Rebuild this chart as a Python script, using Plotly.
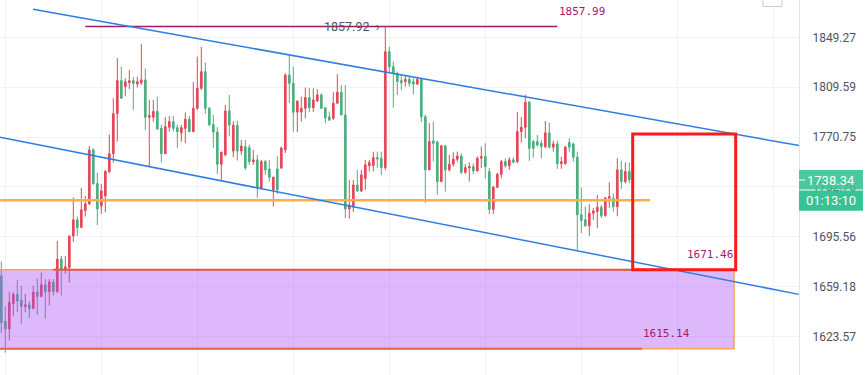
import math
import plotly.graph_objects as go

# ---------------- data ----------------
opens = [1667.1,1634.3,1629.1,1647.2,1653.7,1649.5,1645.0,1646.2,1643.6,1655.4,
         1652.2,1660.6,1655.8,1662.6,1655.8,1679.2,1671.5,1673.1,1696.3,1708.2,
         1702.5,1715.1,1720.1,1760.9,1735.4,1718.5,1726.0,1744.4,1758.0,1788.9,
         1814.7,1810.0,1813.1,1814.7,1812.1,1813.1,1815.3,1786.1,1786.1,1790.5,
         1777.5,1758.0,1778.4,1782.7,1778.0,1774.1,1777.5,1784.5,1774.9,1793.0,
         1808.7,1821.8,1793.0,1780.4,1774.6,1750.0,1757.1,1791.0,1760.0,1779.7,
         1760.0,1763.4,1762.6,1751.9,1753.3,1732.0,1752.0,1746.4,1730.6,1746.4,
         1747.2,1760.9,1819.2,1812.6,1790.1,1790.1,1793.0,1801.4,1793.5,1798.8,
         1803.5,1793.5,1786.4,1785.3,1797.0,1805.6,1787.9,1716.3,1717.9,1734.3,
         1729.8,1739.1,1748.9,1749.0,1755.0,1754.5,1747.4,1837.7,1825.8,1820.6,
         1814.7,1814.0,1815.8,1813.9,1812.0,1815.8,1786.4,1745.7,1767.8,1767.0,
         1736.8,1764.0,1745.7,1750.0,1753.8,1756.3,1743.9,1747.2,1748.2,1744.9,
         1754.6,1755.8,1744.4,1716.0,1732.6,1742.4,1752.0,1748.8,1753.3,1751.9,
         1775.0,1778.3,1797.8,1767.3,1767.3,1766.0,1763.5,1774.0,1763.0,1765.5,
         1750.5,1750.5,1766.6,1765.5,1755.3,1711.9,1708.2,1703.7,1713.1,1714.4,
         1717.5,1711.3,1724.3,1724.3,1718.0,1745.7,1736.8,1744.4]
highs = [1677.5,1645.2,1655.4,1655.6,1664.2,1659.9,1654.1,1648.9,1659.9,1665.4,
         1669.5,1664.7,1664.7,1664.7,1692.6,1681.6,1681.6,1696.8,1724.8,1710.6,
         1732.1,1725.8,1764.0,1762.2,1743.5,1735.1,1745.7,1772.8,1800.9,1832.6,
         1825.8,1816.6,1823.2,1817.8,1817.8,1844.0,1824.5,1799.6,1799.6,1802.2,
         1780.1,1786.2,1787.1,1787.1,1780.1,1780.1,1789.7,1787.1,1813.9,1833.8,
         1841.7,1829.0,1794.0,1787.9,1778.4,1759.6,1795.7,1803.5,1783.0,1783.5,
         1768.6,1768.6,1765.0,1760.9,1757.1,1753.3,1753.3,1753.3,1740.6,1756.0,
         1763.5,1820.6,1835.9,1825.8,1798.8,1802.2,1809.3,1808.7,1808.7,1808.0,
         1804.8,1793.5,1790.5,1805.6,1819.8,1811.3,1811.3,1738.1,1738.1,1745.7,
         1745.7,1753.3,1753.3,1759.6,1759.6,1759.6,1857.92,1841.7,1829.8,1821.9,
         1820.0,1818.7,1817.8,1816.6,1817.8,1816.6,1788.2,1781.5,1782.7,1768.0,
         1764.7,1764.7,1757.1,1759.1,1759.6,1758.3,1750.0,1751.2,1750.5,1755.8,
         1763.5,1766.0,1747.1,1733.6,1743.4,1753.3,1754.5,1755.3,1755.3,1790.3,
         1786.2,1803.7,1798.8,1768.6,1772.4,1768.6,1783.2,1781.9,1768.0,1768.0,
         1755.8,1764.0,1770.0,1766.6,1759.6,1732.4,1718.2,1719.8,1716.9,1726.8,
         1719.3,1725.5,1736.3,1728.0,1754.5,1752.6,1751.3,1751.3]
lows = [1626.1,1612.3,1620.9,1637.9,1641.0,1632.4,1641.0,1636.8,1643.0,1639.1,
        1651.5,1636.3,1645.7,1652.9,1654.6,1652.9,1668.6,1662.3,1691.9,1696.3,
        1702.5,1710.6,1719.3,1734.3,1704.2,1712.6,1713.8,1743.2,1751.2,1767.3,
        1800.6,1802.4,1808.1,1791.8,1809.4,1811.3,1776.3,1748.2,1782.7,1776.3,
        1751.4,1758.0,1775.0,1775.0,1762.4,1767.3,1766.0,1774.6,1774.9,1791.8,
        1807.4,1788.7,1779.0,1762.4,1742.7,1737.5,1756.3,1771.4,1755.4,1752.8,
        1757.1,1745.7,1749.5,1749.5,1724.5,1730.6,1741.9,1736.9,1718.1,1727.5,
        1746.4,1758.6,1797.2,1775.0,1774.6,1782.7,1785.3,1790.1,1790.3,1798.0,
        1792.5,1781.4,1783.2,1784.0,1797.0,1787.9,1709.6,1709.0,1714.1,1729.0,
        1729.0,1730.6,1744.4,1744.4,1747.2,1741.9,1745.7,1821.8,1793.5,1803.5,
        1807.4,1810.0,1810.0,1804.0,1811.3,1782.4,1720.8,1745.7,1752.0,1726.8,
        1736.8,1729.3,1744.4,1748.2,1752.0,1742.4,1742.4,1736.8,1742.4,1744.4,
        1747.2,1739.3,1712.3,1712.6,1731.8,1739.4,1747.2,1745.7,1750.7,1750.7,
        1766.4,1769.8,1752.7,1755.0,1763.5,1754.5,1762.2,1762.2,1759.6,1746.5,
        1746.5,1749.5,1759.6,1751.9,1686.1,1698.3,1703.2,1696.3,1708.2,1702.0,
        1709.4,1710.6,1717.1,1714.4,1710.8,1731.2,1735.3,1735.5]
closes = [1633.6,1629.1,1647.9,1653.7,1648.9,1645.0,1646.2,1643.6,1655.4,1652.2,
          1660.6,1655.8,1662.6,1655.8,1679.2,1671.5,1673.6,1696.1,1708.2,1702.5,
          1715.6,1720.1,1760.9,1735.4,1716.3,1729.8,1744.4,1758.0,1788.9,1814.7,
          1800.9,1813.9,1814.7,1812.6,1813.9,1815.3,1786.1,1787.4,1790.5,1777.0,
          1758.0,1778.8,1782.7,1777.5,1774.9,1778.0,1784.5,1774.9,1793.0,1808.7,
          1821.8,1793.0,1780.4,1774.6,1750.0,1759.1,1791.0,1780.0,1779.9,1760.0,
          1763.9,1747.1,1751.9,1753.3,1732.0,1752.0,1745.7,1740.0,1740.1,1730.6,
          1762.3,1819.2,1812.6,1790.0,1798.8,1793.0,1801.4,1793.5,1799.6,1803.5,
          1793.0,1785.6,1784.0,1797.0,1805.6,1787.9,1716.3,1719.3,1734.3,1729.8,
          1741.9,1749.5,1751.2,1755.0,1754.0,1747.4,1837.7,1825.8,1820.6,1814.0,
          1813.1,1815.8,1812.6,1812.1,1815.8,1786.4,1745.7,1767.3,1766.0,1736.8,
          1764.0,1745.7,1750.0,1753.8,1756.3,1743.9,1747.4,1748.2,1744.9,1754.6,
          1755.8,1748.2,1716.0,1732.6,1742.4,1752.0,1748.8,1753.3,1751.5,1775.0,
          1778.3,1797.8,1762.1,1762.1,1764.7,1763.5,1774.0,1763.0,1765.5,1750.5,
          1751.9,1763.0,1763.0,1755.3,1711.9,1707.7,1703.7,1713.1,1714.8,1717.5,
          1711.3,1724.3,1725.5,1718.0,1745.7,1736.8,1744.4,1738.34]
bars = list(range(len(opens)))

price_ticks = [1623.57, 1659.18, 1695.56, 1732.75, 1770.75, 1809.59, 1849.27]
price_tick_text = ["1623.57", "1659.18", "1695.56", "1732.75", "1770.75", "1809.59", "1849.27"]

last_price = 1738.34
countdown = "01:13:10"
peak_price = 1857.92
resistance = 1857.99
support_line = 1722.7
zone_low = 1615.14
zone_high = 1671.46
target_high = 1773.1

# channel drawing anchors (bar index, price)
upper_channel = [(7.925, 1871.9), (199.7, 1764.1)]
lower_channel = [(-0.325, 1770.6), (199.4, 1653.7)]

# ---------------- styling ----------------
RED = "#e4475a"
GREEN = "#4bae80"
BLUE = "#2e7de1"
MAGENTA = "#a21b6b"
GRID = "#f0f3fa"
LABEL_GREEN = "#36c395"

fig = go.Figure()
fig.add_trace(go.Candlestick(
    x=bars, open=opens, high=highs, low=lows, close=closes,
    increasing=dict(line=dict(color=RED, width=1), fillcolor=RED),
    decreasing=dict(line=dict(color=GREEN, width=1), fillcolor=GREEN),
    whiskerwidth=0, showlegend=False, hoverinfo="skip",
))

shapes = []
# purple demand zone
shapes.append(dict(type="rect", xref="x", yref="y", x0=-2, x1=183.2, y0=zone_low, y1=zone_high,
                   fillcolor="rgba(170,80,245,0.4)", line=dict(color="#f5a45e", width=1.5), layer="above"))
shapes.append(dict(type="line", xref="x", yref="y", x0=13, x1=183.2, y0=zone_high, y1=zone_high,
                   line=dict(color="#dc5a45", width=2), layer="above"))
shapes.append(dict(type="line", xref="x", yref="y", x0=-2, x1=160.2, y0=zone_low, y1=zone_low,
                   line=dict(color="#dc6a45", width=2), layer="above"))
# orange horizontal line
shapes.append(dict(type="line", xref="x", yref="y", x0=-2, x1=162.2, y0=support_line, y1=support_line,
                   line=dict(color="#ffad4a", width=2.5), layer="above"))
# resistance line
shapes.append(dict(type="line", xref="x", yref="y", x0=21, x1=139, y0=resistance, y1=resistance,
                   line=dict(color=MAGENTA, width=1.5), layer="above"))
# channel lines
for (a, b) in (upper_channel, lower_channel):
    shapes.append(dict(type="line", xref="x", yref="y", x0=a[0], y0=a[1], x1=b[0], y1=b[1],
                       line=dict(color=BLUE, width=1.5), layer="above"))
# red target box
shapes.append(dict(type="rect", xref="x", yref="y", x0=157.85, x1=183.6, y0=zone_high, y1=target_high,
                   line=dict(color="#ff1a1a", width=3), fillcolor="rgba(0,0,0,0)", layer="above"))
# price label boxes on axis
def py(px):
    return (375 - px) / 375.0
shapes.append(dict(type="rect", xref="paper", yref="paper", x0=1.0, x1=1 + 64 / 799, y0=py(189.6), y1=py(170),
                   fillcolor=LABEL_GREEN, line=dict(width=0), opacity=0.9, layer="above"))
shapes.append(dict(type="rect", xref="paper", yref="paper", x0=1.0, x1=1 + 64 / 799, y0=py(210.7), y1=py(190.6),
                   fillcolor=LABEL_GREEN, line=dict(width=0), layer="above"))
shapes.append(dict(type="line", xref="paper", yref="paper", x0=1.0, x1=1 + 6 / 799, y0=py(180), y1=py(180),
                   line=dict(color="white", width=1), layer="above"))
# small toolbar box top right
shapes.append(dict(type="rect", xref="paper", yref="paper", x0=763 / 799, x1=782 / 799, y0=py(6.5), y1=py(-5),
                   line=dict(color="#c9cbd1", width=1), fillcolor="white", layer="above"))
fig.update_layout(shapes=shapes)

ann = []
mono = dict(family="DejaVu Sans Mono", size=11, color=MAGENTA)
ann.append(dict(x=145.2, y=math.log10(1870.5), xref="x", yref="y", text=f"{resistance:.2f}",
                showarrow=False, font=mono, xanchor="center", yanchor="middle"))
ann.append(dict(x=177.2, y=math.log10(1682.4), xref="x", yref="y", text=f"{zone_high:.2f}",
                showarrow=False, font=mono, xanchor="center", yanchor="middle"))
ann.append(dict(x=166.2, y=math.log10(1625.6), xref="x", yref="y", text=f"{zone_low:.2f}",
                showarrow=False, font=mono, xanchor="center", yanchor="middle"))
ann.append(dict(x=87.7, y=math.log10(peak_price), xref="x", yref="y", text=f"{peak_price:.2f}  ›",
                showarrow=False, font=dict(family="Roboto", size=12.5, color="#50535e"),
                xanchor="center", yanchor="middle"))
ann.append(dict(x=1 + 32 / 799, y=py(180), xref="paper", yref="paper", text=f"{last_price:.2f}",
                showarrow=False, font=dict(family="Roboto", size=13, color="white"),
                xanchor="center", yanchor="middle"))
ann.append(dict(x=1 + 32 / 799, y=py(200.5), xref="paper", yref="paper", text=countdown,
                showarrow=False, font=dict(family="Roboto", size=13, color="white"),
                xanchor="center", yanchor="middle"))
fig.update_layout(annotations=ann)

fig.update_layout(
    width=865, height=375,
    margin=dict(l=0, r=66, t=0, b=0),
    paper_bgcolor="white", plot_bgcolor="white",
    showlegend=False, hovermode=False, boxgap=0.4,
    xaxis=dict(range=[-0.325, 199.425], rangeslider=dict(visible=False),
               tickvals=[0.925 + 24 * n for n in range(9)], showticklabels=False,
               showgrid=True, gridcolor=GRID, gridwidth=1, zeroline=False, showline=False, ticks=""),
    yaxis=dict(type="log", side="right", range=[3.203234, 3.274043],
               tickvals=price_ticks, ticktext=price_tick_text,
               showgrid=True, gridcolor=GRID, gridwidth=1, zeroline=False,
               showline=True, linecolor="#e0e3eb", linewidth=1, ticks="",
               ticklabelstandoff=10,
               tickfont=dict(family="Roboto", size=12, color="#50535e")),
)

fig.write_html("out.html", config={"displayModeBar": False},
               post_script="document.body.style.margin='0px';document.body.style.overflow='hidden';")
